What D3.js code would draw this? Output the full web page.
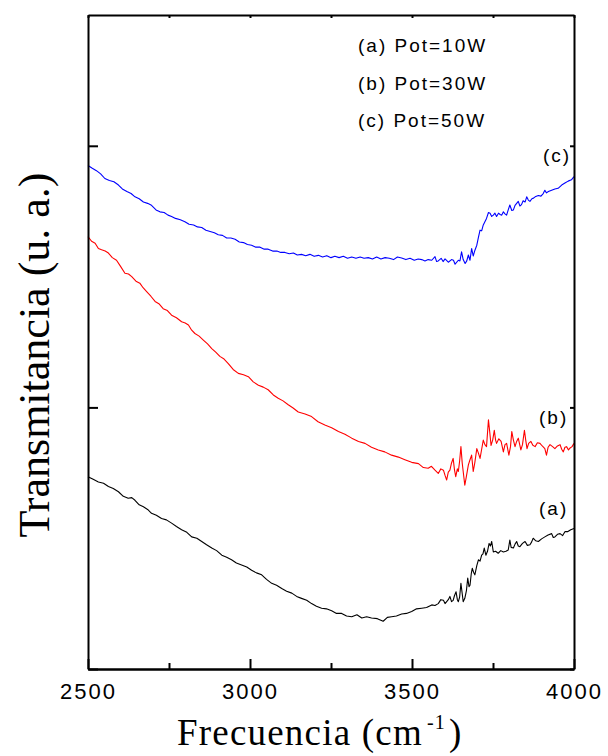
<!DOCTYPE html>
<html>
<head>
<meta charset="utf-8">
<script src="https://cdn.jsdelivr.net/npm/d3@7"></script>
<style>
	body { margin: 0; background: #fff; }
	.tickLabel { font-family: "Liberation Sans", Arial, sans-serif; font-size: 22px; letter-spacing: 2px; }
	.legendText { font-family: "Liberation Sans", Arial, sans-serif; font-size: 19px; letter-spacing: 2px; }
	.axisTitle { font-family: "Liberation Serif", "Times New Roman", serif; }
</style>
</head>
<body>
<div id="chart"></div>
<script>
// spectra: [frecuencia (cm-1), transmitancia (u.a.)]
const spectrumA = [[2500,29.4],[2516,29.0],[2532,28.6],[2548,28.4],[2563,27.9],[2578,27.6],[2594,27.1],[2609,26.4],[2624,26.1],[2635,26.2],[2645,25.8],[2658,25.1],[2671,24.8],[2684,24.4],[2696,23.8],[2711,23.5],[2727,23.0],[2742,22.8],[2758,22.3],[2773,21.8],[2789,21.3],[2805,20.9],[2820,20.2],[2836,20.0],[2851,19.5],[2866,19.0],[2882,18.5],[2897,18.1],[2913,17.4],[2928,17.1],[2943,16.7],[2958,16.2],[2974,15.9],[2990,15.6],[3005,15.1],[3020,14.7],[3036,14.4],[3051,13.7],[3067,13.1],[3082,12.8],[3098,12.3],[3113,11.9],[3129,11.6],[3144,11.1],[3159,10.8],[3175,10.5],[3190,10.0],[3205,9.6],[3221,9.3],[3236,9.2],[3252,8.9],[3267,8.5],[3283,8.5],[3298,8.1],[3314,8.0],[3330,8.3],[3345,7.8],[3360,8.0],[3375,7.8],[3393,7.7],[3411,7.3],[3424,7.9],[3437,8.0],[3452,8.1],[3468,8.4],[3483,8.5],[3499,8.8],[3514,9.2],[3530,9.3],[3545,9.4],[3561,9.8],[3571,9.7],[3581,10.0],[3589,10.6],[3597,10.5],[3602,10.0],[3607,10.3],[3612,10.6],[3617,11.1],[3622,10.3],[3627,10.5],[3631,11.2],[3636,11.8],[3640,10.6],[3643,10.3],[3647,11.0],[3651,13.1],[3655,11.5],[3658,10.3],[3663,10.8],[3668,12.0],[3672,13.9],[3676,12.6],[3679,12.8],[3683,14.6],[3686,15.4],[3690,14.8],[3694,14.4],[3700,15.8],[3705,16.7],[3710,16.5],[3715,17.4],[3719,17.6],[3723,18.5],[3728,17.4],[3733,18.0],[3738,19.2],[3742,18.8],[3746,19.5],[3751,17.9],[3758,18.0],[3766,17.7],[3774,18.1],[3782,17.9],[3790,18.0],[3797,18.2],[3802,19.7],[3806,18.6],[3813,18.5],[3818,19.1],[3823,19.5],[3828,18.8],[3833,18.7],[3841,19.2],[3849,19.5],[3856,18.9],[3864,19.0],[3869,19.4],[3874,20.0],[3882,19.6],[3890,19.5],[3900,19.9],[3910,20.2],[3920,20.5],[3931,20.7],[3936,20.1],[3941,20.2],[3949,20.6],[3957,20.7],[3965,20.4],[3972,21.0],[3980,21.0],[3990,21.3],[4000,21.5]];

const spectrumB = [[2500,66.1],[2511,65.4],[2522,65.1],[2532,64.3],[2542,64.1],[2553,63.9],[2563,63.6],[2575,62.9],[2588,62.5],[2600,61.6],[2614,60.5],[2625,60.4],[2635,60.0],[2648,59.3],[2660,59.0],[2670,58.3],[2681,57.7],[2694,57.0],[2707,56.2],[2720,55.8],[2732,55.1],[2745,54.8],[2758,54.1],[2773,53.7],[2789,53.1],[2800,52.9],[2810,52.6],[2820,51.8],[2830,51.3],[2843,50.9],[2856,50.3],[2869,49.7],[2882,49.0],[2895,48.4],[2907,47.8],[2920,47.4],[2933,46.7],[2948,45.8],[2964,45.2],[2980,45.0],[2995,44.7],[3010,43.9],[3026,43.4],[3041,43.1],[3056,42.7],[3072,41.9],[3087,41.4],[3102,41.0],[3118,40.4],[3133,39.9],[3149,39.3],[3170,39.0],[3190,38.6],[3210,37.8],[3231,37.3],[3252,36.9],[3273,36.3],[3293,35.9],[3314,35.3],[3335,34.8],[3355,34.5],[3375,33.9],[3396,33.5],[3416,33.2],[3437,32.7],[3458,32.4],[3478,32.0],[3499,31.6],[3520,31.4],[3535,30.8],[3550,30.7],[3560,31.0],[3571,30.4],[3581,29.9],[3589,30.6],[3597,30.4],[3602,29.6],[3607,28.9],[3612,30.1],[3617,30.4],[3622,31.5],[3627,32.2],[3631,30.5],[3635,29.4],[3640,30.6],[3643,30.2],[3647,31.8],[3651,34.0],[3655,31.5],[3658,30.2],[3663,28.1],[3668,29.5],[3674,31.2],[3679,32.0],[3684,32.7],[3689,30.2],[3694,31.6],[3700,33.7],[3705,33.0],[3710,32.2],[3715,33.6],[3720,35.0],[3725,34.3],[3730,34.0],[3736,38.1],[3740,36.2],[3744,34.2],[3749,35.0],[3754,36.5],[3758,35.0],[3761,34.5],[3768,35.2],[3775,34.8],[3782,33.2],[3787,34.3],[3792,34.5],[3799,32.7],[3804,34.0],[3808,36.3],[3813,35.0],[3818,34.0],[3823,34.8],[3828,35.3],[3836,33.5],[3841,34.3],[3847,36.5],[3851,35.0],[3855,33.7],[3860,34.5],[3867,34.8],[3873,34.2],[3880,34.0],[3887,34.6],[3895,34.5],[3902,34.1],[3910,33.7],[3915,32.7],[3920,33.9],[3926,34.3],[3934,34.0],[3941,33.7],[3949,34.1],[3957,34.3],[3962,33.6],[3967,33.2],[3972,33.9],[3977,34.0],[3983,33.5],[3988,33.8],[3994,34.0],[4000,34.5]];

const spectrumC = [[2500,77.0],[2512,76.6],[2526,76.2],[2539,75.7],[2552,75.0],[2566,74.7],[2580,74.5],[2594,74.0],[2606,73.4],[2620,73.0],[2633,72.7],[2645,72.2],[2658,71.9],[2671,71.4],[2684,71.2],[2696,70.9],[2710,70.2],[2722,69.9],[2735,69.8],[2747,69.4],[2758,69.2],[2770,68.9],[2785,68.7],[2799,68.4],[2812,68.0],[2826,67.9],[2838,67.6],[2851,67.5],[2864,67.1],[2877,66.9],[2890,66.7],[2902,66.4],[2915,66.3],[2928,65.9],[2941,65.9],[2954,65.7],[2967,65.3],[2980,65.2],[2992,64.9],[3005,64.8],[3018,64.5],[3031,64.5],[3044,64.2],[3056,64.2],[3070,63.9],[3083,63.9],[3095,63.7],[3108,63.7],[3121,63.5],[3134,63.6],[3146,63.3],[3159,63.4],[3172,63.2],[3185,63.4],[3198,63.1],[3211,63.25],[3224,63.0],[3237,63.2],[3250,62.9],[3262,63.1],[3275,62.9],[3288,63.1],[3301,62.8],[3314,63.0],[3327,62.8],[3340,63.0],[3352,62.8],[3365,62.9],[3378,62.7],[3391,63.0],[3404,62.7],[3417,62.9],[3430,62.8],[3443,62.6],[3455,63.0],[3468,62.85],[3481,62.6],[3494,62.8],[3507,62.5],[3519,62.7],[3530,62.6],[3540,62.4],[3550,62.6],[3561,62.5],[3571,63.05],[3576,62.3],[3581,62.4],[3590,62.8],[3596,62.3],[3602,62.7],[3612,62.2],[3622,62.6],[3628,62.5],[3633,61.9],[3643,62.5],[3648,62.4],[3653,63.8],[3658,62.6],[3664,62.0],[3669,62.4],[3674,63.3],[3679,62.5],[3684,64.3],[3689,63.15],[3694,64.0],[3700,64.8],[3705,66.0],[3710,67.1],[3715,67.0],[3720,67.9],[3725,68.4],[3730,68.9],[3736,69.8],[3741,69.7],[3746,69.2],[3751,69.4],[3756,69.7],[3761,69.2],[3767,69.7],[3772,69.5],[3777,69.4],[3782,69.9],[3787,69.6],[3792,69.4],[3797,70.2],[3802,70.95],[3808,70.1],[3813,70.2],[3818,70.9],[3823,71.2],[3828,71.5],[3833,70.8],[3838,71.0],[3843,71.6],[3849,71.4],[3854,72.2],[3859,71.7],[3864,71.5],[3870,71.9],[3875,72.0],[3880,72.2],[3890,72.4],[3898,72.3],[3905,72.7],[3910,73.2],[3915,72.8],[3921,73.0],[3931,73.2],[3941,73.4],[3951,73.5],[3962,74.0],[3972,74.3],[3982,74.6],[3992,74.8],[4000,75.3]];

const seriesNames = ["(a)", "(b)", "(c)"];
const legendLabels = ["(a) Pot=10W", "(b) Pot=30W", "(c) Pot=50W"];
const seriesColors = ["#000000", "#ff0000", "#0000ff"];
const xTicksMajor = [2500, 3000, 3500, 4000];
const xTicksMinor = [2750, 3250, 3750];
const yTicks = [0, 40, 80];

class SpectraChart {
	constructor(){
		this.margin = { top: 15, right: 34, bottom: 87, left: 88 };
		this.width = 608 - this.margin.left - this.margin.right;
		this.height = 756 - this.margin.top - this.margin.bottom;
		this.x = d3.scaleLinear().domain([2500, 4000]).range([0, this.width]);
		this.y = d3.scaleLinear().domain([0, 100]).range([this.height, 0]);
		this.drawChart();
	}

	drawChart(){
		let that = this;
		let svg = d3.select('#chart').append('svg')
			.attr('width', 608)
			.attr('height', 756);
		let g = svg.append('g')
			.attr('transform', 'translate(' + this.margin.left + ',' + this.margin.top + ')');

		let line = d3.line()
			.x(d => that.x(d[0]))
			.y(d => that.y(d[1]));

		g.selectAll('path.spectrum')
			.data([spectrumA, spectrumB, spectrumC])
			.enter()
			.append('path')
			.classed('spectrum', true)
			.attr('d', line)
			.attr('fill', 'none')
			.attr('stroke', (d, i) => seriesColors[i])
			.attr('stroke-width', 1.1)
			.attr('stroke-linejoin', 'round');

		// axes, all ticks pointing inward
		let bottom = g.append('g')
			.attr('transform', 'translate(0,' + this.height + ')')
			.call(d3.axisBottom(this.x).tickValues(xTicksMajor).tickSizeInner(-10).tickSizeOuter(0).tickPadding(14).tickFormat(d3.format('d')));
		bottom.selectAll('text').attr('class', 'tickLabel').attr('fill', '#000').attr('font-size', null).attr('font-family', null);
		g.append('g')
			.attr('transform', 'translate(0,' + this.height + ')')
			.call(d3.axisBottom(this.x).tickValues(xTicksMinor).tickSizeInner(-6).tickSizeOuter(0).tickFormat(''));
		g.append('g')
			.call(d3.axisTop(this.x).tickValues(xTicksMajor.concat(xTicksMinor)).tickSizeInner(-3).tickSizeOuter(0).tickFormat(''));
		g.append('g')
			.call(d3.axisLeft(this.y).tickValues(yTicks).tickSizeInner(-10).tickSizeOuter(0).tickFormat(''));
		g.append('g')
			.attr('transform', 'translate(' + this.width + ',0)')
			.call(d3.axisRight(this.y).tickValues(yTicks).tickSizeInner(-4).tickSizeOuter(0).tickFormat(''));
		g.selectAll('.domain').attr('stroke', '#000').attr('stroke-width', 2);
		g.selectAll('.tick line').attr('stroke', '#000').attr('stroke-width', 2);

		// legend
		g.selectAll('text.legendText')
			.data(legendLabels)
			.enter()
			.append('text')
			.classed('legendText', true)
			.attr('x', 270)
			.attr('y', (d, i) => 37 + i * 37.5)
			.text(d => d);

		// curve labels near right edge
		let labelPos = [[451, 500], [451, 409], [455, 147]];
		g.selectAll('text.curveLabel')
			.data(seriesNames)
			.enter()
			.append('text')
			.attr('class', 'legendText curveLabel')
			.attr('x', (d, i) => labelPos[i][0])
			.attr('y', (d, i) => labelPos[i][1])
			.text(d => d);

		// axis titles
		let xt = svg.append('text')
			.attr('class', 'axisTitle')
			.attr('x', 177)
			.attr('y', 745)
			.attr('font-size', 37)
			.attr('letter-spacing', 1.2);
		xt.append('tspan').text('Frecuencia (cm');
		xt.append('tspan').attr('font-size', 20).attr('dx', 4).attr('dy', -16).text('-1');
		xt.append('tspan').attr('dx', 3).attr('dy', 16).text(')');

		svg.append('text')
			.attr('class', 'axisTitle')
			.attr('transform', 'translate(49,355) rotate(-90)')
			.attr('text-anchor', 'middle')
			.attr('font-size', 44)
			.text('Transmitancia (u. a.)');
	}
}

new SpectraChart();
</script>
</body>
</html>
